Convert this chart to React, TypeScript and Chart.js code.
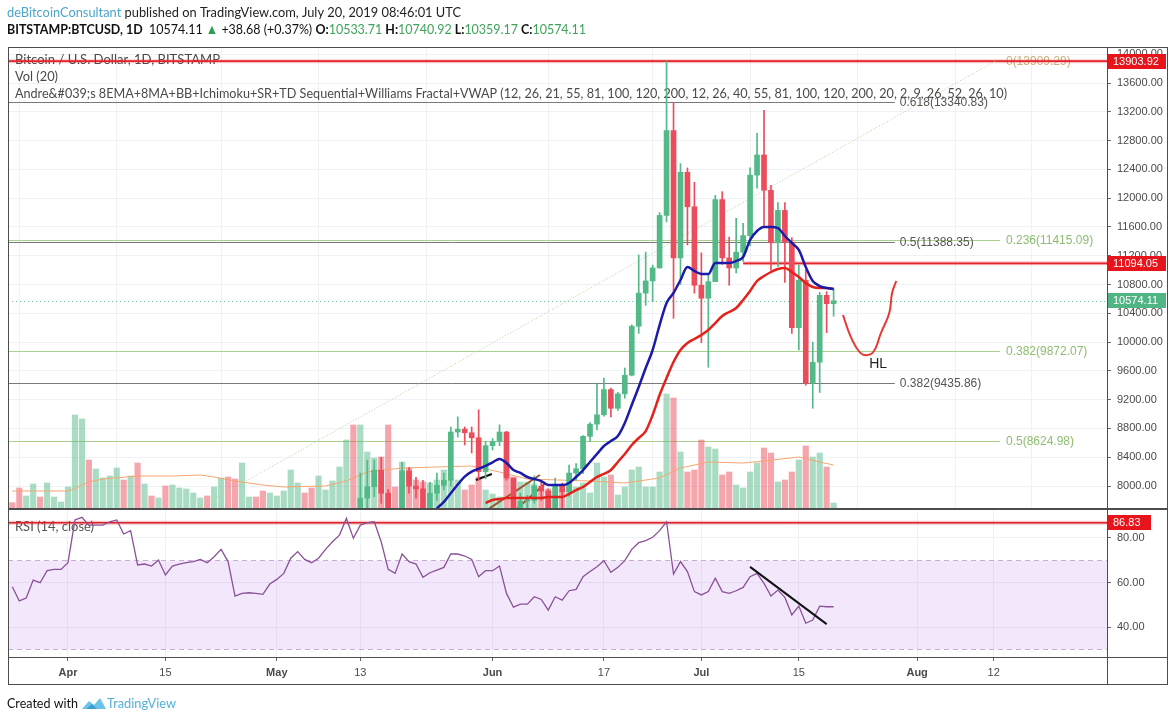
import React, { useEffect, useRef } from "react";
import { Chart, registerables } from "chart.js";

Chart.register(...registerables);

// ---------- data (day index 0 = 1 Apr 2019) ----------
const FIRST_DAY = -8; // 24 Mar 2019

const volumeK = [
  1.9, 6.3, 3.9, 7.5, 3.6, 7.8, 3.6, 2.1, 6.6, 28.2,
  27.0, 14.7, 12.0, 9.3, 9.9, 12.3, 8.7, 9.9, 13.8, 7.5,
  3.9, 3.3, 6.9, 7.2, 6.3, 6.0, 4.8, 3.3, 3.9, 6.6,
  9.3, 9.6, 9.0, 13.8, 3.6, 3.6, 5.4, 4.8, 3.9, 5.4,
  11.7, 7.8, 4.8, 6.3, 9.9, 5.7, 8.4, 12.6, 20.7, 25.2,
  25.2, 17.1, 15.3, 15.6, 25.2, 6.6, 14.1, 12.3, 8.7, 8.1,
  7.8, 8.7, 11.7, 9.3, 8.7, 5.7, 7.2, 9.6, 5.7, 4.5,
  3.6, 14.1, 9.6, 8.1, 8.1, 7.5, 5.7, 6.0, 6.3, 5.7,
  6.9, 6.6, 7.8, 4.8, 13.8, 9.6, 10.2, 4.2, 6.6, 11.7,
  12.6, 6.6, 6.6, 11.1, 34.5, 33.3, 17.1, 11.1, 11.7, 20.7,
  18.6, 18.0, 10.2, 11.1, 7.2, 6.3, 11.1, 13.8, 18.3, 16.8,
  8.1, 8.7, 11.1, 14.7, 18.9, 15.6, 16.8, 12.6, 1.8,
];

const volumeUp = [
  0, 0, 1, 1, 0, 1, 1, 1, 1, 1,
  1, 0, 1, 1, 1, 1, 0, 1, 0, 1,
  0, 1, 0, 1, 1, 1, 1, 1, 0, 1,
  1, 0, 0, 1, 1, 0, 0, 1, 1, 1,
  1, 1, 0, 0, 1, 1, 1, 1, 1, 0,
  1, 1, 1, 0, 0, 0, 1, 0, 0, 0,
  1, 1, 1, 1, 1, 0, 0, 0, 1, 1,
  1, 0, 0, 1, 1, 1, 0, 0, 1, 0,
  1, 1, 1, 1, 1, 1, 0, 1, 1, 1,
  1, 1, 1, 1, 1, 0, 1, 0, 0, 0,
  1, 1, 0, 0, 1, 1, 1, 1, 0, 0,
  1, 0, 0, 1, 0, 1, 1, 0, 1,
];

const rsi14 = [
  58.1, 51.7, 53.0, 61.1, 59.9, 65.3, 65.9, 65.9, 68.9, 88.1,
  89.3, 85.8, 85.8, 85.8, 87.3, 88.1, 81.8, 83.3, 67.9, 68.3,
  67.4, 70.1, 63.4, 67.4, 68.3, 68.9, 69.4, 70.4, 68.9, 71.6,
  74.9, 69.4, 53.9, 55.1, 55.4, 55.1, 54.7, 59.3, 61.4, 64.1,
  70.9, 73.9, 70.4, 68.9, 70.9, 74.9, 78.3, 81.3, 88.8, 79.9,
  85.8, 86.9, 87.3, 78.3, 65.9, 64.1, 72.8, 69.4, 68.3, 62.3,
  64.4, 65.6, 66.8, 72.8, 72.8, 71.9, 70.4, 62.6, 65.3, 65.3,
  67.4, 55.1, 48.9, 50.3, 50.3, 53.6, 52.4, 47.6, 53.6, 52.1,
  56.3, 56.9, 62.6, 64.9, 67.1, 69.8, 64.6, 66.8, 69.8, 74.9,
  77.9, 78.8, 80.3, 83.3, 87.3, 63.8, 69.4, 64.9, 55.9, 54.4,
  55.9, 61.9, 55.9, 55.1, 56.3, 57.8, 62.6, 64.1, 59.6, 53.9,
  56.6, 53.3, 45.4, 49.4, 41.7, 43.1, 49.4, 49.1, 49.1,
];

const CANDLE_FIRST_DAY = 42; // 13 May 2019
const candleOpen = [
  6970, 7830, 7990, 8220, 7900, 7350, 7260, 8210, 8000, 7960,
  7630, 7900, 8010, 8080, 8750, 8790, 8740, 8670, 8200, 8560,
  8620, 8750, 8110, 7670, 7790, 7800, 8000, 7930, 7630, 8010,
  7920, 8180, 8240, 8690, 8860, 8990, 9340, 9080, 9280, 9540,
  10220, 10680, 10850, 11030, 11760, 12940, 11170, 12360, 11880, 10790,
  10610, 10840, 11980, 11170, 11030, 11250, 11480, 12320, 12600, 12110,
  11380, 11830, 11390, 10200, 10860, 9430, 9720, 10650, 10533.71,
];
const candleHigh = [
  8180, 8360, 8360, 8400, 7950, 7420, 8330, 8260, 8120, 8080,
  8050, 8180, 8180, 8820, 8960, 8820, 8820, 9060, 8620, 8660,
  8850, 8760, 8110, 7900, 7870, 8140, 8060, 7960, 8110, 8040,
  8290, 8310, 8700, 8880, 9430, 9500, 9360, 9300, 9640, 10240,
  11210, 11250, 11070, 11800, 13900, 13330, 12480, 12420, 12220, 11240,
  10940, 12040, 12090, 11460, 11720, 11650, 12420, 12900, 13220, 12180,
  11940, 11940, 11450, 11070, 11000, 10000, 10690, 10700, 10740.92,
];
const candleLow = [
  6870, 7690, 7850, 7760, 6600, 7230, 7250, 7900, 7830, 7580,
  7500, 7800, 7950, 8000, 8680, 8570, 8460, 8080, 8100, 8500,
  8560, 8080, 7450, 7580, 7450, 7760, 7800, 7520, 7510, 7690,
  7860, 8080, 8170, 8620, 8780, 8970, 8960, 9050, 9220, 9530,
  10120, 10510, 10560, 11030, 11670, 10330, 10800, 11350, 10680, 9990,
  9650, 10840, 11080, 10790, 10960, 11120, 11340, 12140, 11600, 11000,
  11050, 10830, 10120, 9890, 9400, 9080, 9300, 10130, 10359.17,
];
const candleClose = [
  7830, 7990, 8220, 7900, 7350, 7260, 8210, 8000, 7960, 7630,
  7900, 8010, 8080, 8750, 8790, 8740, 8670, 8200, 8560, 8620,
  8750, 8110, 7670, 7790, 7800, 8000, 7930, 7630, 8010, 7920,
  8180, 8240, 8690, 8860, 8990, 9340, 9080, 9280, 9540, 10220,
  10680, 10850, 11030, 11760, 12940, 11170, 12360, 11880, 10790, 10610,
  10840, 11980, 11170, 11030, 11250, 11480, 12320, 12600, 12110, 11380,
  11830, 11390, 10200, 10860, 9430, 9720, 10650, 10533.71, 10574.11,
];

const EMA_FAST_FIRST_DAY = 53;
const emaFast = [
  7690, 7780, 7900, 8020, 8130, 8200, 8240, 8280, 8330, 8375,
  8320, 8222, 8181, 8125, 8097, 8069, 8014, 8014, 8014, 8042,
  8125, 8222, 8334, 8445, 8556, 8625, 8695, 8876, 9126, 9376,
  9640, 9890, 10237, 10543, 10682, 10863, 11043, 10988, 10946, 10946,
  11099, 11099, 11099, 11127, 11182, 11419, 11544, 11599, 11599, 11585,
  11474, 11377, 11280, 11043, 10849, 10779, 10752, 10738,
];
const EMA_SLOW_FIRST_DAY = 60;
const emaSlow = [
  7764, 7805, 7819, 7833, 7833, 7833, 7833, 7833, 7833, 7847,
  7847, 7847, 7889, 7944, 7986, 8056, 8125, 8167, 8222, 8334,
  8445, 8570, 8667, 8764, 8987, 9265, 9501, 9723, 9890, 9987,
  10043, 10098, 10168, 10265, 10362, 10418, 10474, 10585, 10710, 10849,
  10918, 10974, 11016, 11029, 10974, 10904, 10821, 10765, 10752, 10752,
  10738,
];

const volMaDays = [-8, 0, 1, 2, 3, 5, 10, 15, 19, 21, 24, 28, 31, 37, 40, 43, 48, 58, 62, 66, 75, 80, 85, 88, 92, 97, 100, 105, 108, 110];
const volMaValues = [5.4, 5.4, 6.0, 7.2, 8.1, 9.0, 9.9, 9.9, 10.2, 9.6, 8.4, 7.2, 6.6, 6.9, 8.4, 11.1, 12.3, 12.9, 11.1, 9.0, 8.4, 7.8, 9.3, 12.3, 14.1, 13.8, 14.4, 15.6, 14.1, 13.2];

const xTickDays = [0, 14, 30, 42, 61, 77, 91, 105, 122, 133];
const xTickLabels = ["Apr", "15", "May", "13", "Jun", "17", "Jul", "15", "Aug", "12"];
const monthLabels = ["Apr", "May", "Jun", "Jul", "Aug"];
const priceTicks = [8000, 8400, 8800, 9200, 9600, 10000, 10400, 10800, 11200, 11600, 12000, 12400, 12800, 13200, 13600, 14000];
const rsiTicks = [40, 60, 80];

const greenFibLevels = ["0", "0.236", "0.382", "0.5"];
const greenFibPrices = [13909.29, 11415.09, 9872.07, 8624.98];
const grayFibLevels = ["0.618", "0.5", "0.382"];
const grayFibPrices = [13340.83, 11388.35, 9435.86];
const GREEN_FIB_END_DAY = 133.9;
const GRAY_FIB_END_DAY = 118.8;

const redLevelPrices = [13903.92, 11094.05];
const redLevelFromDay = [-9, 97];
const lastClose = 10574.11;
const rsiRedLevel = 86.83;

const fibTrendDays = [18.4, 133.3];
const fibTrendPrices = [7680, 13909.29];
const hlDays = [111.35, 112.36, 113.5, 114.4, 115.7, 116.8, 118.0, 118.4, 119.0];
const hlPrices = [10376, 10098, 9890, 9820, 9862, 10126, 10404, 10682, 10849];
const brownLineADays = [60.2, 67.8];
const brownLineAPrices = [7666, 8153];
const brownLineBDays = [64.3, 68.6];
const brownLineBPrices = [7666, 8040];
const blackSegDays = [58.6, 60.9];
const blackSegPrices = [8083, 8167];
const rsiTrendDays = [98, 109];
const rsiTrendValues = [67.0, 41.3];

// ---------- helpers ----------
const X_MIN = -8.62;
const X_MAX = 149.28;
const PRICE_MIN = 7680.4;
const PRICE_MAX = 14100.6;
const VOL_MAX = 138.6;
const RSI_MIN = 26.52;
const RSI_MAX = 93.03;

const GREEN = "#53b987";
const RED = "#eb4d5c";
const FRAME = "#4d4d4d";
const GRID = "#eef1f5";
const SANS = 'Lato, "Liberation Sans", sans-serif';
const AXISFONT = '"Liberation Sans", Arial, sans-serif';

type Part = { t: string; c: string; b?: boolean };

function fitText(ctx: any, parts: Part[], x: number, y: number, width: number | null, size: number, family = SANS) {
  ctx.save();
  ctx.textBaseline = "middle";
  ctx.textAlign = "left";
  const fonts = parts.map((p) => `${p.b ? "bold " : ""}${size}px ${family}`);
  const ws = parts.map((p, i) => {
    ctx.font = fonts[i];
    return ctx.measureText(p.t).width;
  });
  const total = ws.reduce((a, b) => a + b, 0);
  const sx = width ? width / total : 1;
  ctx.translate(x, y);
  ctx.scale(sx, 1);
  let cx = 0;
  parts.forEach((p, i) => {
    ctx.font = fonts[i];
    ctx.fillStyle = p.c;
    ctx.fillText(p.t, cx, 0);
    cx += ws[i];
  });
  ctx.restore();
}

function tag(ctx: any, x: number, yc: number, w: number, text: string, bg: string) {
  ctx.save();
  ctx.fillStyle = bg;
  ctx.fillRect(x, Math.round(yc - 7.5), w, 15);
  ctx.fillStyle = "#ffffff";
  ctx.font = `11px ${AXISFONT}`;
  ctx.textBaseline = "middle";
  ctx.textAlign = "left";
  ctx.fillText(text, x + 5, yc + 0.5);
  ctx.restore();
}

function hLine(ctx: any, x1: number, x2: number, y: number, color: string, width: number, dash: number[] = []) {
  ctx.save();
  ctx.strokeStyle = color;
  ctx.lineWidth = width;
  ctx.setLineDash(dash);
  ctx.beginPath();
  ctx.moveTo(x1, y);
  ctx.lineTo(x2, y);
  ctx.stroke();
  ctx.restore();
}

function frameLine(ctx: any, x1: number, y1: number, x2: number, y2: number) {
  ctx.save();
  ctx.strokeStyle = FRAME;
  ctx.lineWidth = 1;
  ctx.beginPath();
  ctx.moveTo(x1, y1);
  ctx.lineTo(x2, y2);
  ctx.stroke();
  ctx.restore();
}

const mainDecor = {
  id: "mainDecor",
  beforeDatasetsDraw(chart: any) {
    const { ctx, chartArea: a, scales } = chart;
    const xs = scales.x;
    const ys = scales.y;
    // legend texts
    fitText(ctx, [{ t: "Bitcoin / U.S. Dollar, 1D, BITSTAMP", c: "#4a4a4a" }], 15, 60, 205, 13);
    fitText(ctx, [{ t: "Vol (20)", c: "#4a4a4a" }], 15, 77, 43, 13);
    fitText(
      ctx,
      [{ t: "Andre&#039;s 8EMA+8MA+BB+Ichimoku+SR+TD Sequential+Williams Fractal+VWAP (12, 26, 21, 55, 81, 100, 120, 200, 12, 26, 40, 55, 81, 100, 120, 200, 20, 2, 9, 26, 52, 26, 10)", c: "#4a4a4a" }],
      15, 94, 992, 13
    );
    ctx.save();
    ctx.beginPath();
    ctx.rect(a.left, a.top, a.right - a.left, a.bottom - a.top);
    ctx.clip();
    // green fib levels
    const gEnd = xs.getPixelForValue(GREEN_FIB_END_DAY);
    greenFibPrices.forEach((p, i) => {
      const y = Math.round(ys.getPixelForValue(p)) + 0.5;
      hLine(ctx, a.left, gEnd, y, i === 0 ? "#d2c39a" : "#a9d18e", 1);
      ctx.font = `12px ${AXISFONT}`;
      ctx.textBaseline = "middle";
      ctx.fillStyle = i === 0 ? "#c9b27a" : "#8dbd6f";
      ctx.fillText(`${greenFibLevels[i]}(${p.toFixed(2)})`, gEnd + 6, y);
    });
    // gray fib levels
    const grEnd = xs.getPixelForValue(GRAY_FIB_END_DAY);
    grayFibPrices.forEach((p, i) => {
      const y = Math.round(ys.getPixelForValue(p)) + 0.5;
      hLine(ctx, a.left, grEnd, y, "#7a7a7a", 1);
      ctx.font = `12px ${AXISFONT}`;
      ctx.textBaseline = "middle";
      ctx.fillStyle = "#555555";
      ctx.fillText(`${grayFibLevels[i]}(${p.toFixed(2)})`, grEnd + 5, y);
    });
    // last price dotted
    hLine(ctx, a.left, a.right, Math.round(ys.getPixelForValue(lastClose)) + 0.5, "#6cc198", 1, [1, 3]);
    // red levels
    redLevelPrices.forEach((p, i) => {
      const y = ys.getPixelForValue(p);
      const x1 = Math.max(a.left, xs.getPixelForValue(redLevelFromDay[i]));
      hLine(ctx, x1, a.right, y, "rgba(232,32,42,0.25)", 4);
      hLine(ctx, x1, a.right, y, "#e3242b", 1.6);
    });
    ctx.restore();
  },
  afterDraw(chart: any) {
    const { ctx, chartArea: a, scales, width } = chart;
    const xs = scales.x;
    const ys = scales.y;
    // HL label
    ctx.save();
    ctx.font = `14px ${AXISFONT}`;
    ctx.fillStyle = "#222";
    ctx.textAlign = "center";
    ctx.textBaseline = "middle";
    ctx.fillText("HL", xs.getPixelForValue(116.4), ys.getPixelForValue(9695));
    ctx.restore();
    // header
    fitText(
      ctx,
      [
        { t: "deBitcoinConsultant", c: "#4ea5cb" },
        { t: " published on TradingView.com, July 20, 2019 08:46:01 UTC", c: "#222" },
      ],
      7, 12, 454, 14
    );
    const g = "#3fa35a";
    fitText(
      ctx,
      [
        { t: "BITSTAMP:BTCUSD, 1D", c: "#111", b: true },
        { t: "  10574.11 ", c: "#111" },
        { t: "\u25B2", c: "#2e9e50" },
        { t: " +38.68 (+0.37%) ", c: "#111" },
        { t: "O:", c: "#111", b: true },
        { t: "10533.71", c: g },
        { t: " H:", c: "#111", b: true },
        { t: "10740.92", c: g },
        { t: " L:", c: "#111", b: true },
        { t: "10359.17", c: g },
        { t: " C:", c: "#111", b: true },
        { t: "10574.11", c: g },
      ],
      7, 29, 579, 14
    );
    // frame
    const right = width - 8;
    frameLine(ctx, 8, a.top + 0.5, right, a.top + 0.5);
    frameLine(ctx, 8.5, a.top, 8.5, a.bottom);
    frameLine(ctx, right - 0.5, a.top, right - 0.5, a.bottom);
    frameLine(ctx, a.right + 0.5, a.top, a.right + 0.5, a.bottom);
    frameLine(ctx, 8, a.bottom - 0.5, right, a.bottom - 0.5);
    // price tags
    tag(ctx, a.right + 1, ys.getPixelForValue(redLevelPrices[0]), 58, redLevelPrices[0].toFixed(2), "#e8141b");
    tag(ctx, a.right + 1, ys.getPixelForValue(redLevelPrices[1]), 58, redLevelPrices[1].toFixed(2), "#e8141b");
    tag(ctx, a.right + 1, ys.getPixelForValue(lastClose), 58, lastClose.toFixed(2), "#4fb583");
  },
};

const rsiDecor = {
  id: "rsiDecor",
  beforeDatasetsDraw(chart: any) {
    const { ctx, chartArea: a, scales } = chart;
    const ys = scales.yr;
    const y70 = Math.round(ys.getPixelForValue(70)) + 0.5;
    const y30 = Math.round(ys.getPixelForValue(30)) + 0.5;
    ctx.save();
    ctx.fillStyle = "rgba(160,60,230,0.12)";
    ctx.fillRect(a.left, y70, a.right - a.left, y30 - y70);
    ctx.restore();
    hLine(ctx, a.left, a.right, y70, "#c6b0d2", 1, [5, 4]);
    hLine(ctx, a.left, a.right, y30, "#c6b0d2", 1, [5, 4]);
    fitText(ctx, [{ t: "RSI (14, close)", c: "#555" }], 15, 18, 79, 13);
    const yr = ys.getPixelForValue(rsiRedLevel);
    hLine(ctx, a.left, a.right, yr, "rgba(232,32,42,0.25)", 4);
    hLine(ctx, a.left, a.right, yr, "#d8232a", 1.6);
  },
  afterDraw(chart: any) {
    const { ctx, chartArea: a, scales, width } = chart;
    const ys = scales.yr;
    const right = width - 8;
    const bottom = a.bottom + 27;
    frameLine(ctx, 8, 0.5, right, 0.5);
    frameLine(ctx, 8.5, 0, 8.5, bottom);
    frameLine(ctx, right - 0.5, 0, right - 0.5, bottom);
    frameLine(ctx, a.right + 0.5, 0, a.right + 0.5, bottom);
    frameLine(ctx, 8, a.bottom + 0.5, right, a.bottom + 0.5);
    frameLine(ctx, 8, bottom + 0.5, right, bottom + 0.5);
    tag(ctx, a.right + 1, ys.getPixelForValue(rsiRedLevel), 43, rsiRedLevel.toFixed(2), "#e8141b");
    // footer
    const fy = 194;
    fitText(ctx, [{ t: "Created with", c: "#111" }], 7, fy, 71, 14);
    ctx.save();
    ctx.fillStyle = "#6cc3e8";
    ctx.beginPath();
    ctx.moveTo(82, fy + 6);
    ctx.lineTo(89, fy - 2);
    ctx.lineTo(94, fy + 2);
    ctx.lineTo(100, fy - 5);
    ctx.lineTo(106, fy + 6);
    ctx.closePath();
    ctx.fill();
    ctx.fillStyle = "#3d9fd0";
    ctx.beginPath();
    ctx.moveTo(86, fy + 6);
    ctx.lineTo(92, fy + 1);
    ctx.lineTo(97, fy + 6);
    ctx.closePath();
    ctx.fill();
    ctx.restore();
    fitText(ctx, [{ t: "TradingView", c: "#55b0d8" }], 107, fy, 69, 14);
  },
};

export default function App() {
  const mainRef = useRef<HTMLCanvasElement>(null);
  const rsiRef = useRef<HTMLCanvasElement>(null);

  useEffect(() => {
    const candleColors = candleOpen.map((o, i) => (candleClose[i] >= o ? GREEN : RED));
    const pts = (first: number, arr: number[]) => arr.map((v, i) => ({ x: first + i, y: v }));
    const pairs = (xsArr: number[], ysArr: number[]) => xsArr.map((x, i) => ({ x, y: ysArr[i] }));

    const xTicksAfterBuild = (s: any) => {
      s.ticks = xTickDays.map((v) => ({ value: v }));
    };

    const main = new Chart(mainRef.current as HTMLCanvasElement, {
      type: "line",
      data: {
        datasets: [
          {
            type: "line",
            label: "HL",
            data: pairs(hlDays, hlPrices),
            borderColor: "#e53935",
            borderWidth: 2,
            pointRadius: 0,
            tension: 0.4,
            yAxisID: "y",
            order: 1,
          },
          {
            type: "line",
            label: "EMA fast",
            data: pts(EMA_FAST_FIRST_DAY, emaFast),
            borderColor: "#1b1ba8",
            borderWidth: 2.5,
            pointRadius: 0,
            cubicInterpolationMode: "monotone",
            yAxisID: "y",
            order: 4,
          },
          {
            type: "line",
            label: "EMA slow",
            data: pts(EMA_SLOW_FIRST_DAY, emaSlow),
            borderColor: "#e3231b",
            borderWidth: 2.5,
            pointRadius: 0,
            cubicInterpolationMode: "monotone",
            yAxisID: "y",
            order: 5,
          },
          {
            type: "bar",
            label: "bodies",
            data: candleOpen.map((o, i) => ({ x: CANDLE_FIRST_DAY + i, y: [o, candleClose[i]] })),
            backgroundColor: candleColors,
            barThickness: 5,
            grouped: false,
            borderWidth: 0,
            yAxisID: "y",
            order: 9,
          },
          {
            type: "bar",
            label: "wicks",
            data: candleLow.map((l, i) => ({ x: CANDLE_FIRST_DAY + i, y: [l, candleHigh[i]] })),
            backgroundColor: candleColors,
            barThickness: 1,
            grouped: false,
            borderWidth: 0,
            yAxisID: "y",
            order: 10,
          },
          {
            type: "line",
            label: "black",
            data: pairs(blackSegDays, blackSegPrices),
            borderColor: "#111",
            borderWidth: 2,
            pointRadius: 0,
            yAxisID: "y",
            order: 11,
          },
          {
            type: "line",
            label: "brownA",
            data: pairs(brownLineADays, brownLineAPrices),
            borderColor: "#a0522d",
            borderWidth: 2,
            pointRadius: 0,
            yAxisID: "y",
            order: 12,
          },
          {
            type: "line",
            label: "brownB",
            data: pairs(brownLineBDays, brownLineBPrices),
            borderColor: "#c0392b",
            borderWidth: 2,
            pointRadius: 0,
            yAxisID: "y",
            order: 12,
          },
          {
            type: "line",
            label: "fib trend",
            data: pairs(fibTrendDays, fibTrendPrices),
            borderColor: "#b5cf9b",
            borderWidth: 1,
            borderDash: [1, 2],
            pointRadius: 0,
            yAxisID: "y",
            order: 18,
          },
          {
            type: "line",
            label: "Vol MA",
            data: pairs(volMaDays, volMaValues),
            borderColor: "#f4a66f",
            borderWidth: 1,
            pointRadius: 0,
            yAxisID: "yv",
            order: 19,
          },
          {
            type: "bar",
            label: "Volume",
            data: pts(FIRST_DAY, volumeK),
            backgroundColor: volumeUp.map((u) => (u ? "rgba(83,185,135,0.5)" : "rgba(235,77,92,0.5)")),
            barThickness: 5.5,
            grouped: false,
            borderWidth: 0,
            yAxisID: "yv",
            order: 20,
          },
        ],
      } as any,
      options: {
        responsive: false,
        animation: false,
        devicePixelRatio: 1,
        layout: { padding: { left: 8, right: 8, top: 47, bottom: 0 } },
        plugins: { legend: { display: false }, tooltip: { enabled: false } },
        scales: {
          x: {
            type: "linear",
            min: X_MIN,
            max: X_MAX,
            offset: false,
            afterBuildTicks: xTicksAfterBuild,
            ticks: { display: false },
            grid: { color: GRID, drawTicks: false },
            border: { display: false },
            afterFit: (s: any) => {
              s.height = 0;
              s.paddingLeft = 0;
              s.paddingRight = 0;
            },
          },
          y: {
            type: "linear",
            position: "right",
            min: PRICE_MIN,
            max: PRICE_MAX,
            afterBuildTicks: (s: any) => {
              s.ticks = priceTicks.map((v) => ({ value: v }));
            },
            ticks: {
              color: "#4a4a4a",
              font: { family: AXISFONT, size: 11 },
              padding: 6,
              autoSkip: false,
              callback: (v: any) => Number(v).toFixed(2),
            },
            grid: { color: GRID, tickLength: 4, tickColor: "#666" },
            border: { display: false },
            afterFit: (s: any) => {
              s.width = 61;
              s.paddingTop = 0;
              s.paddingBottom = 0;
            },
          },
          yv: {
            type: "linear",
            display: false,
            min: 0,
            max: VOL_MAX,
          },
        },
      } as any,
      plugins: [mainDecor],
    });

    const rsi = new Chart(rsiRef.current as HTMLCanvasElement, {
      type: "line",
      data: {
        datasets: [
          {
            label: "RSI trend",
            data: pairs(rsiTrendDays, rsiTrendValues),
            borderColor: "#111",
            borderWidth: 2,
            pointRadius: 0,
            yAxisID: "yr",
            order: 1,
          },
          {
            label: "RSI",
            data: pts(FIRST_DAY, rsi14),
            borderColor: "#8a5296",
            borderWidth: 1.3,
            pointRadius: 0,
            tension: 0,
            yAxisID: "yr",
            order: 2,
          },
        ],
      } as any,
      options: {
        responsive: false,
        animation: false,
        devicePixelRatio: 1,
        layout: { padding: { left: 8, right: 8, top: 0, bottom: 37 } },
        plugins: { legend: { display: false }, tooltip: { enabled: false } },
        scales: {
          x: {
            type: "linear",
            min: X_MIN,
            max: X_MAX,
            offset: false,
            afterBuildTicks: xTicksAfterBuild,
            ticks: {
              autoSkip: false,
              maxRotation: 0,
              padding: 5,
              color: "#4a4a4a",
              font: (c: any) => ({
                family: AXISFONT,
                size: 11,
                weight: monthLabels.includes(xTickLabels[c.index]) ? "bold" : "normal",
              }),
              callback: (v: any) => xTickLabels[xTickDays.indexOf(Number(v))] ?? "",
            },
            grid: { color: GRID, tickLength: 4, tickColor: "#666" },
            border: { display: false },
            afterFit: (s: any) => {
              s.height = 27;
              s.paddingLeft = 0;
              s.paddingRight = 0;
            },
          },
          yr: {
            type: "linear",
            position: "right",
            min: RSI_MIN,
            max: RSI_MAX,
            afterBuildTicks: (s: any) => {
              s.ticks = rsiTicks.map((v) => ({ value: v }));
            },
            ticks: {
              color: "#4a4a4a",
              font: { family: AXISFONT, size: 11 },
              padding: 6,
              callback: (v: any) => Number(v).toFixed(2),
            },
            grid: { color: GRID, tickLength: 4, tickColor: "#666" },
            border: { display: false },
            afterFit: (s: any) => {
              s.width = 61;
              s.paddingTop = 0;
              s.paddingBottom = 0;
            },
          },
        },
      } as any,
      plugins: [rsiDecor],
    });

    return () => {
      main.destroy();
      rsi.destroy();
    };
  }, []);

  return (
    <div style={{ position: "absolute", left: 0, top: 0, width: 1176, height: 721, background: "#ffffff" }}>
      <canvas ref={mainRef} width={1176} height={509} style={{ position: "absolute", left: 0, top: 0, width: 1176, height: 509 }} />
      <canvas ref={rsiRef} width={1176} height={212} style={{ position: "absolute", left: 0, top: 509, width: 1176, height: 212 }} />
    </div>
  );
}
